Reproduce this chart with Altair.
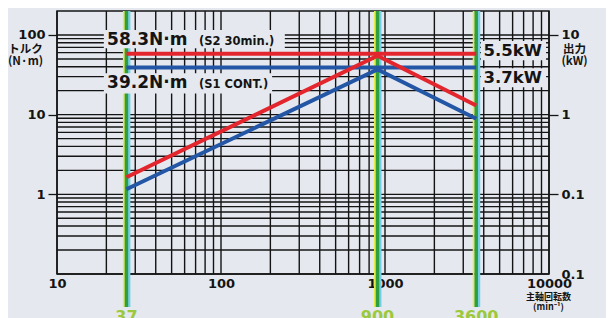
import altair as alt
import pandas as pd

# ---------------- data ----------------
speed_const = [26.5, 3600]              # torque lines (left axis, N·m)
torque_s2 = [58.3, 58.3]
torque_s1 = [39.2, 39.2]
speed_power = [26.5, 900, 3600]         # power lines (right axis, kW)
power_s2 = [0.164, 5.5, 1.30]
power_s1 = [0.116, 3.7, 0.89]
marker_speed = [26.5, 900, 3600]        # green marker lines
marker_label = ["37", "900", "3600"]
x_label_values = [10, 100, 1000, 10000]
torque_label_values = [1, 10, 100]
power_label_values = [0.01, 0.1, 1, 10]
x_grid = [m * 10 ** k for k in (1, 2, 3) for m in range(1, 10)] + [10000]
y_grid = [m * 10.0 ** k for k in (-1, 0, 1) for m in range(1, 10)] + [100]

# annotation texts and their label boxes (data coordinates)
big_text = ["58.3N·m", "39.2N·m"]
big_x = [20.2, 20.2]
big_y = [75.0, 21.3]
small_text = ["(S2 30min.)", "(S1 CONT.)"]
small_x = [73.5, 73.5]
small_y = [75.5, 21.6]
kw_text = ["5.5kW", "3.7kW"]
kw_x = [9060, 9060]
kw_y = [54.2, 24.7]
box_x1 = [19.3, 19.3, 3846, 3846]
box_x2 = [245, 205, 9597, 9597]
box_y1 = [115.7, 33.0, 84.0, 38.2]
box_y2 = [68.4, 18.4, 48.3, 22.0]

BG = "#e5e9ef"
FONT = "DejaVu Sans"
JP = "Noto Sans CJK JP"
RED = "#e3262d"
BLUE = "#2456a6"
INK = "#141414"

xscale = alt.Scale(type="log", domain=[10, 10000], nice=False)
tscale = alt.Scale(type="log", domain=[0.1, 200], nice=False)
pscale = alt.Scale(type="log", domain=[0.01, 20], nice=False)

xaxis = alt.Axis(
    values=x_label_values, format="d", ticks=False, grid=False, domain=False,
    labelFont=FONT, labelFontSize=13, labelFontWeight="bold", labelColor=INK,
    labelPadding=3, labelFlush=False, labelOverlap=False,
    title=["主軸回転数", "(min⁻¹)"], titleFont=JP, titleFontSize=9,
    titleFontWeight="bold", titleColor=INK, titleX=491, titleY=18,
    titleAlign="center", titleBaseline="top", titleLineHeight=10.5,
)
taxis = alt.Axis(
    orient="left", values=torque_label_values, format="d", tickSize=9,
    tickWidth=1.3, tickColor=INK, grid=False, domain=False,
    labelFont=FONT, labelFontSize=13, labelFontWeight="bold", labelColor=INK,
    labelPadding=3,
    title=["トルク", "(N·m)"], titleAngle=0, titleX=-32, titleY=32,
    titleAlign="center", titleBaseline="top", titleFont=JP, titleFontSize=11.5,
    titleFontWeight="bold", titleColor=INK, titleLineHeight=12,
)
paxis = alt.Axis(
    orient="right", values=power_label_values,
    labelExpr="datum.value >= 1 ? format(datum.value, 'd') : '0.1'",
    tickSize=9, tickWidth=1.3, tickColor=INK,
    tickOpacity={"condition": {"test": "datum.value < 0.05", "value": 0}, "value": 1},
    grid=False, domain=False,
    labelFont=FONT, labelFontSize=13, labelFontWeight="bold", labelColor=INK,
    labelPadding=3,
    title=["出力", "(kW)"], titleAngle=0, titleX=25, titleY=32,
    titleAlign="center", titleBaseline="top", titleFont=JP, titleFontSize=11.5,
    titleFontWeight="bold", titleColor=INK, titleLineHeight=12,
)


def X(field):
    return alt.X(field, type="quantitative", scale=xscale, axis=xaxis)


def YT(field):
    return alt.Y(field, type="quantitative", scale=tscale, axis=taxis)


# ---------------- tables ----------------
vgrid_df = pd.DataFrame({"x": x_grid})
hgrid_df = pd.DataFrame({"t": y_grid})
marker_df = pd.DataFrame({"x": marker_speed, "label": marker_label})
torque_df = pd.concat([
    pd.DataFrame({"x": speed_const, "t": torque_s2, "s": "S2"}),
    pd.DataFrame({"x": speed_const, "t": torque_s1, "s": "S1"}),
])
power_df = pd.concat([
    pd.DataFrame({"x": speed_power, "p": power_s2, "s": "S2"}),
    pd.DataFrame({"x": speed_power, "p": power_s1, "s": "S1"}),
])
box_df = pd.DataFrame({"x": box_x1, "x2": box_x2, "t": box_y1, "t2": box_y2})
big_df = pd.DataFrame({"x": big_x, "t": big_y, "txt": big_text})
small_df = pd.DataFrame({"x": small_x, "t": small_y, "txt": small_text})
kw_df = pd.DataFrame({"x": kw_x, "t": kw_y, "txt": kw_text})

color_scale = alt.Scale(domain=["S2", "S1"], range=[RED, BLUE])

# ---------------- layers ----------------
vgrid = alt.Chart(vgrid_df).mark_rule(color=INK, strokeWidth=1.4).encode(x=X("x"))
hgrid = alt.Chart(hgrid_df).mark_rule(color=INK, strokeWidth=1.4).encode(y=YT("t"))

green_y = alt.Chart(marker_df).mark_rule(color="#e4ec4c", strokeWidth=2, xOffset=-2.5).encode(
    x=X("x"), y=alt.value(0), y2=alt.value(296))
green_c = alt.Chart(marker_df).mark_rule(color="#74cfe6", strokeWidth=3, xOffset=2.5).encode(
    x=X("x"), y=alt.value(0), y2=alt.value(296))
green_g = alt.Chart(marker_df).mark_rule(color="#2f9d42", strokeWidth=3.5).encode(
    x=X("x"), y=alt.value(0), y2=alt.value(296))
green_txt = alt.Chart(marker_df).mark_text(
    font=FONT, fontSize=16, fontWeight="bold", color="#9cc83c",
    baseline="top", align="center").encode(
    x=X("x"), y=alt.value(298), text="label:N")

torque_lines = alt.Chart(torque_df).mark_line(strokeWidth=4).encode(
    x=X("x"), y=YT("t"),
    color=alt.Color("s:N", scale=color_scale, legend=None), detail="s:N")

boxes = alt.Chart(box_df).mark_rect(fill=BG).encode(
    x=X("x"), x2="x2", y=YT("t"), y2="t2")

big = alt.Chart(big_df).mark_text(
    font=FONT, fontSize=17, fontWeight="bold", color=INK,
    align="left", baseline="alphabetic").encode(x=X("x"), y=YT("t"), text="txt:N")
small = alt.Chart(small_df).mark_text(
    font=FONT, fontSize=11.5, fontWeight="bold", color=INK,
    align="left", baseline="alphabetic").encode(x=X("x"), y=YT("t"), text="txt:N")
kw = alt.Chart(kw_df).mark_text(
    font=FONT, fontSize=16.5, fontWeight="bold", color=INK,
    align="right", baseline="alphabetic").encode(x=X("x"), y=YT("t"), text="txt:N")

left = alt.layer(vgrid, hgrid, green_y, green_c, green_g, green_txt,
                 torque_lines, boxes, big, small, kw)

power_lines = alt.Chart(power_df).mark_line(strokeWidth=4).encode(
    x=X("x"),
    y=alt.Y("p", type="quantitative", scale=pscale, axis=paxis),
    color=alt.Color("s:N", scale=color_scale, legend=None), detail="s:N")

chart = alt.layer(left, power_lines).resolve_scale(
    y="independent", color="shared"
).properties(
    width=492, height=263,
    autosize=alt.AutoSizeParams(type="none"),
    padding={"left": 49, "top": 3, "right": 57, "bottom": 44},
    background=BG,
).configure_view(
    fill=BG, stroke=INK, strokeWidth=1.5
)

chart.save("out.html", embed_options={"renderer": "svg", "actions": False})
